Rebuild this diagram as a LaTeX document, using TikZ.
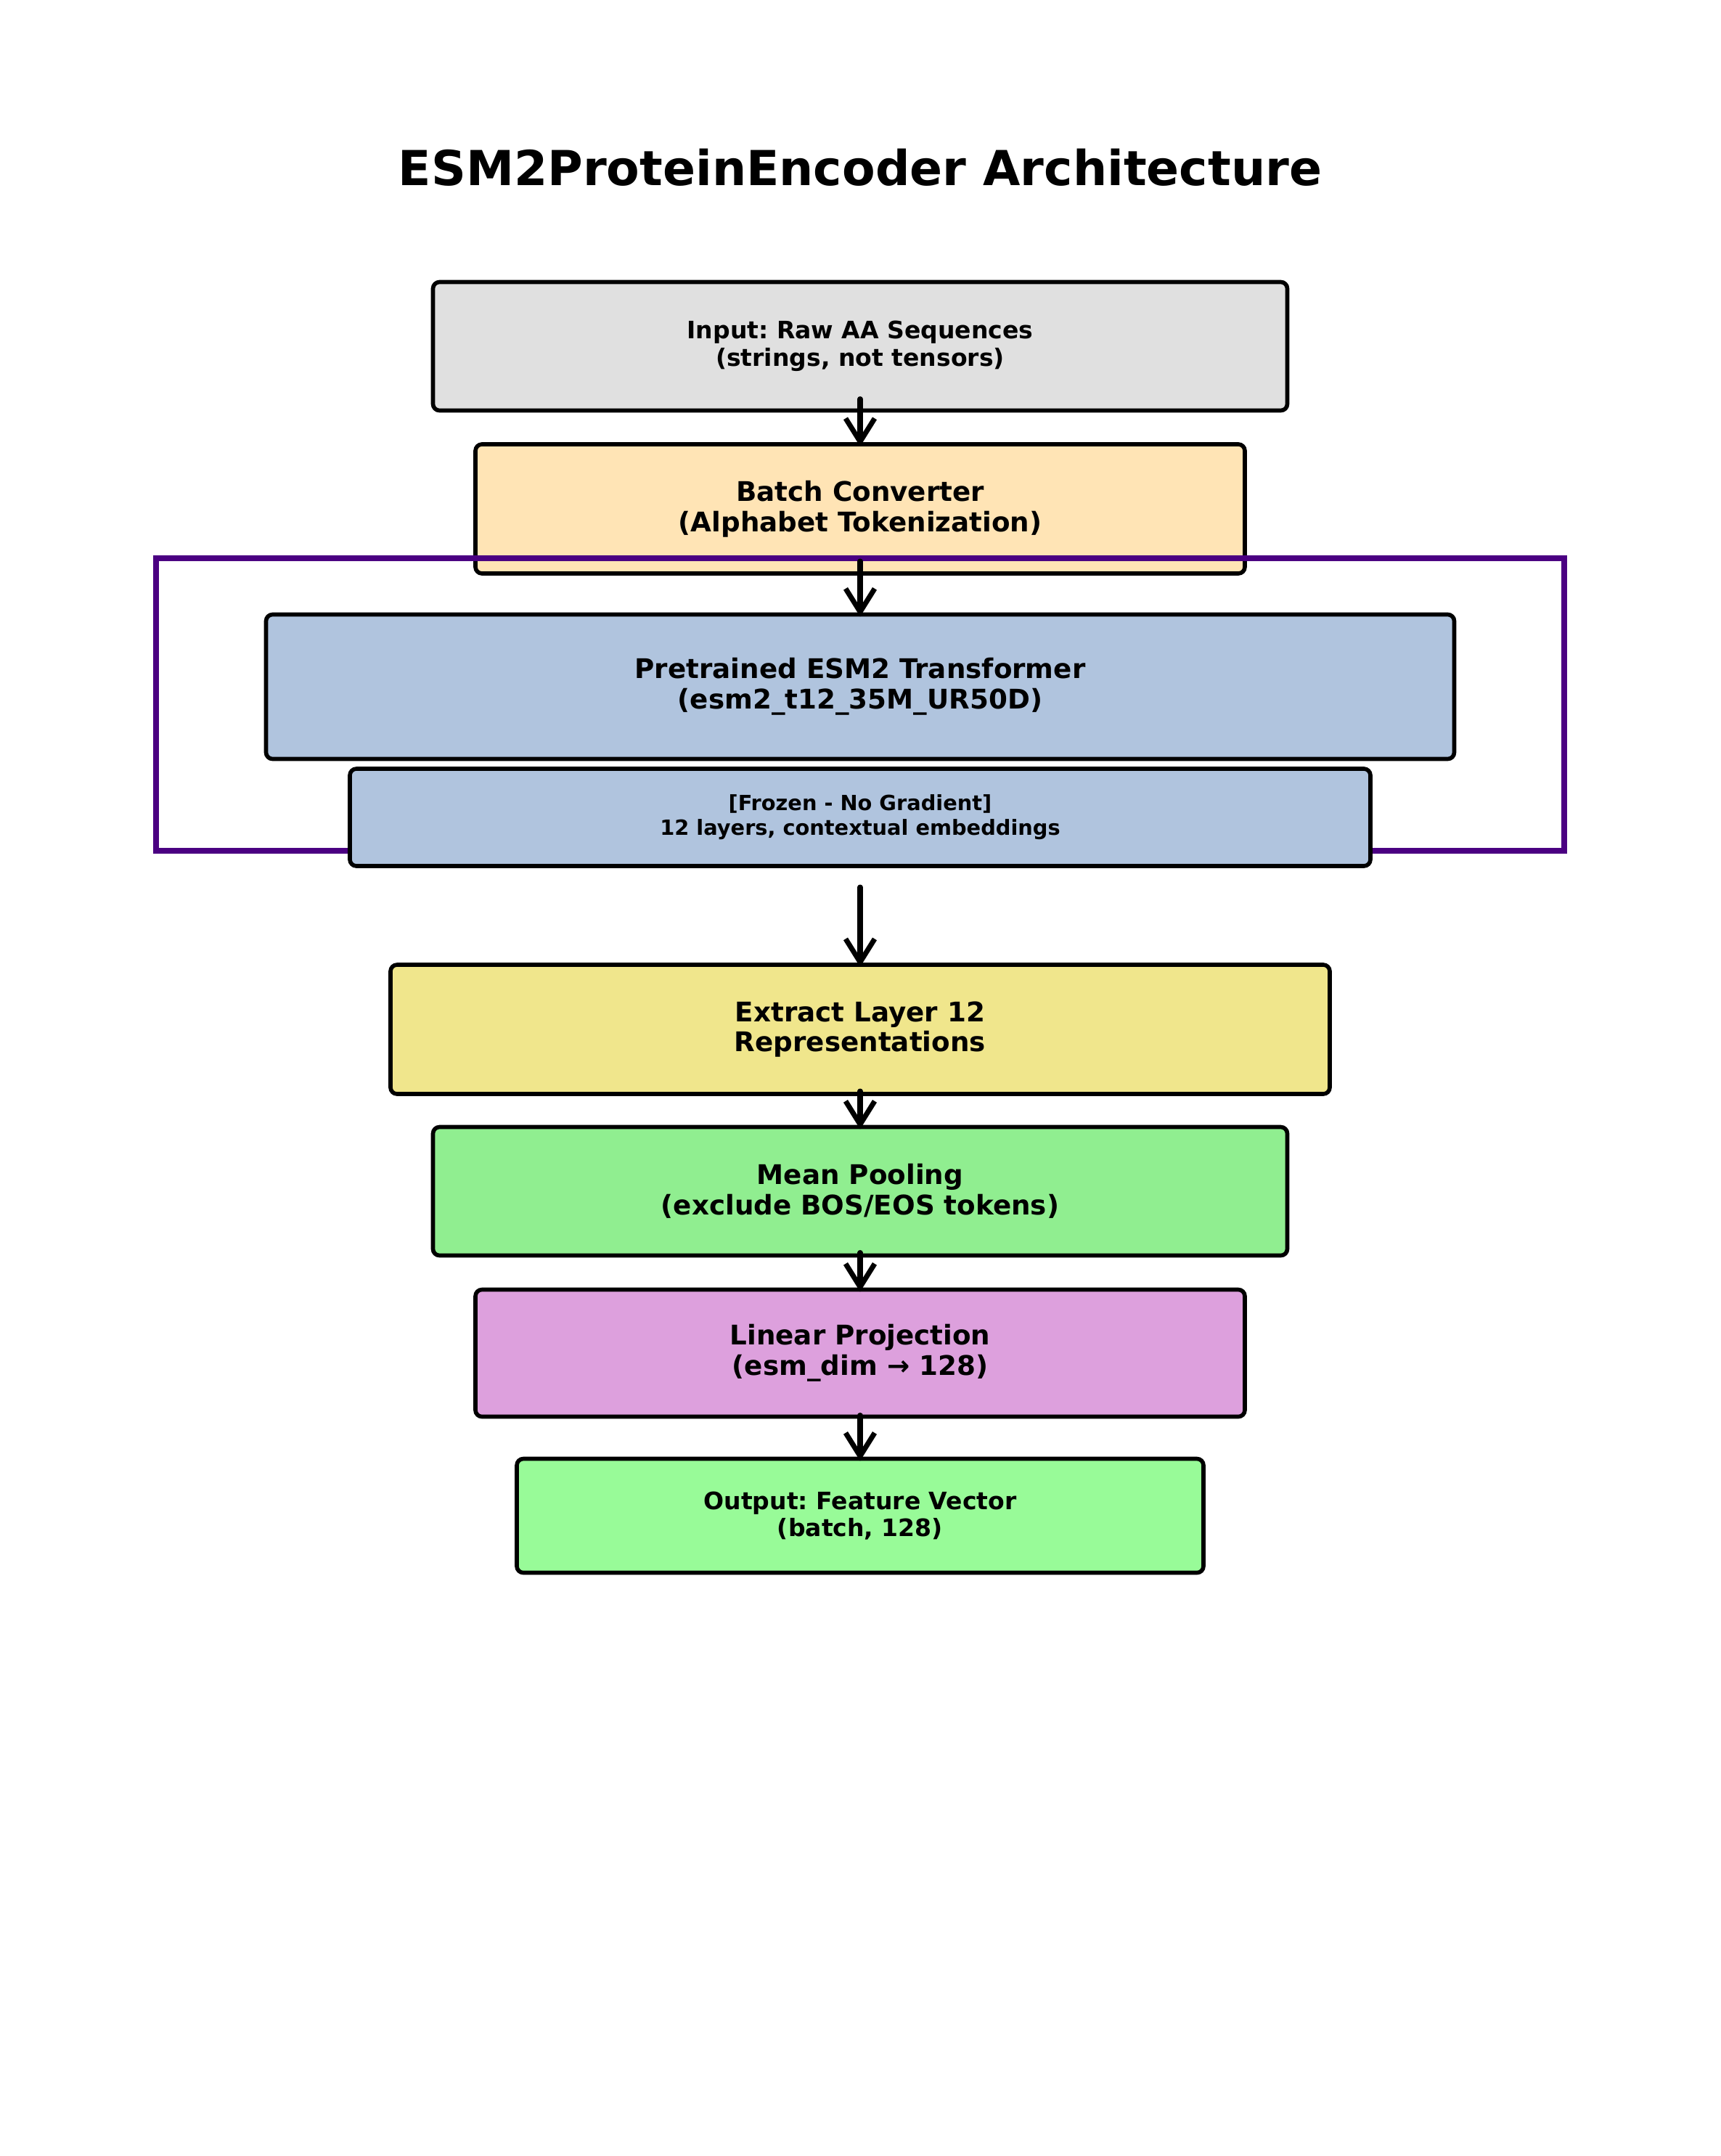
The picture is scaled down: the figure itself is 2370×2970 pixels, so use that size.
\documentclass[tikz,border=0pt]{standalone}
\usepackage{fontspec}
\setmainfont{DejaVu Sans}
\usetikzlibrary{arrows.meta}
\frenchspacing

\definecolor{inputgray}{HTML}{E0E0E0}
\definecolor{moccasin}{HTML}{FFE4B5}
\definecolor{steelblue}{HTML}{B0C4DE}
\definecolor{khaki}{HTML}{F0E68C}
\definecolor{lightgreen}{HTML}{90EE90}
\definecolor{plum}{HTML}{DDA0DD}
\definecolor{palegreen}{HTML}{98FB98}
\definecolor{indigo}{HTML}{4B0082}

\begin{document}
\begin{tikzpicture}[x=0.1mm, y=-0.1mm,
  box/.style={draw=black, line width=1.6pt, rounded corners=0.9mm,
    align=center, inner sep=0pt, outer sep=0pt},
  bigtext/.style={font=\bfseries\fontsize{10.6pt}{11.9pt}\selectfont},
  midtext/.style={font=\bfseries\fontsize{9.4pt}{10.7pt}\selectfont},
  smalltext/.style={font=\bfseries\fontsize{8.2pt}{9.6pt}\selectfont},
  arr/.style={line width=2pt, line cap=round, shorten >=-0.3mm,
    -{Straight Barb[length=3.2mm, width=4mm]}},
  group/.style={draw=indigo, line width=0.75mm, inner sep=0pt},
]
\useasboundingbox[fill=white] (0,0) rectangle (2370,2970);

% title
\node[font=\bfseries\fontsize{18.9pt}{22pt}\selectfont] (title) at (1185,231)
  {ESM2ProteinEncoder Architecture};

% pipeline stages
\node[box, midtext, fill=inputgray, minimum width=117.7mm, minimum height=17.7mm]
  (input) at (1185,477) {Input: Raw AA Sequences\\(strings, not tensors)};
\node[box, bigtext, fill=moccasin, minimum width=106mm, minimum height=17.8mm]
  (batch) at (1185,701) {Batch Converter\\(Alphabet Tokenization)};

% frame around the frozen transformer
\node[group, minimum width=194mm, minimum height=40.3mm] (frozenframe) at (1185,970.5) {};

\node[box, bigtext, fill=steelblue, minimum width=163.7mm, minimum height=19.9mm]
  (esm) at (1185,946) {Pretrained ESM2 Transformer\\(esm2\_t12\_35M\_UR50D)};
\node[box, smalltext, fill=steelblue, minimum width=140.6mm, minimum height=13.4mm]
  (frozen) at (1185,1126) {[Frozen - No Gradient]\\12 layers, contextual embeddings};

\node[box, bigtext, fill=khaki, minimum width=129.4mm, minimum height=17.8mm]
  (extract) at (1185,1418) {Extract Layer 12\\Representations};
\node[box, bigtext, fill=lightgreen, minimum width=117.7mm, minimum height=17.7mm]
  (pool) at (1185,1641) {Mean Pooling\\(exclude BOS/EOS tokens)};
\node[box, bigtext, fill=plum, minimum width=106mm, minimum height=17.5mm]
  (proj) at (1185,1864) {Linear Projection\\(esm\_dim → 128)};
\node[box, midtext, fill=palegreen, minimum width=94.6mm, minimum height=15.7mm]
  (output) at (1185,2088) {Output: Feature Vector\\(batch, 128)};

% data flow
\draw[arr] ([yshift=1.6mm]input.south) -- (batch.north);
\draw[arr] ([yshift=1.7mm]batch.south) -- (esm.north);
\draw[arr] ([yshift=-2.9mm]frozen.south) -- (extract.north);
\draw[arr] ([yshift=0.4mm]extract.south) -- (pool.north);
\draw[arr] ([yshift=0.4mm]pool.south) -- (proj.north);
\draw[arr] ([yshift=0.2mm]proj.south) -- (output.north);
\end{tikzpicture}
\end{document}
